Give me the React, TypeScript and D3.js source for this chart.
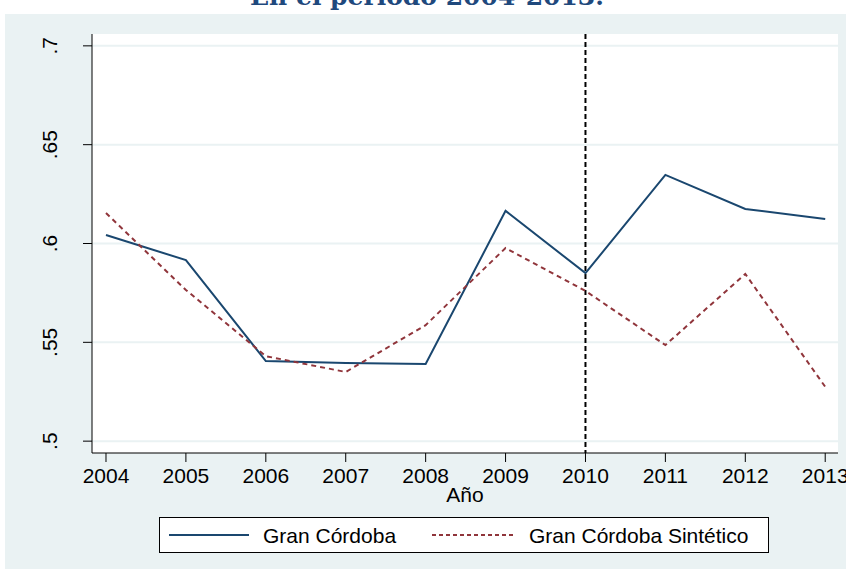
import React from 'react';
import * as d3 from 'd3';

const years = [2004, 2005, 2006, 2007, 2008, 2009, 2010, 2011, 2012, 2013];
const granCordoba = [0.6043, 0.5916, 0.5405, 0.5395, 0.539, 0.6165, 0.585, 0.6347, 0.6175, 0.6124];
const granCordobaSintetico = [0.6154, 0.5765, 0.543, 0.535, 0.5587, 0.5977, 0.576, 0.5486, 0.5846, 0.5275];
const yTicks = [0.5, 0.55, 0.6, 0.65, 0.7];
const yTickLabels = ['.5', '.55', '.6', '.65', '.7'];
const treatmentYear = 2010;

const W = 846;
const H = 569;
const plot = { left: 92, right: 838, top: 34, bottom: 453 };
const FONT = 'Liberation Sans, Arial, sans-serif';

const App = () => {
    const x = d3.scaleLinear().domain([2003.825, 2013.16]).range([plot.left, plot.right]);
    const y = d3.scaleLinear().domain([0.494, 0.706]).range([plot.bottom, plot.top]);

    const line = d3.line<number>()
        .x((_, i) => x(years[i]))
        .y(d => y(d));

    return (
        <div style={{ position: 'absolute', left: 0, top: 0 }}>
            <svg width={W} height={H} style={{ display: 'block' }}>
                <rect x={0} y={0} width={W} height={H} fill="#fff" />
                <text x={427} y={5} textAnchor="middle" fill="#1f497d"
                    style={{ fontFamily: 'DejaVu Serif, serif', fontWeight: 'bold', fontSize: 25 }}>
                    En el período 2004-2013.
                </text>
                {/* outer background */}
                <rect x={5} y={14} width={W - 5} height={H - 14} fill="#eaf2f3" />
                {/* plot region */}
                <rect x={plot.left} y={plot.top} width={plot.right - plot.left} height={plot.bottom - plot.top} fill="#fff" />

                {/* grid */}
                {yTicks.map(t => (
                    <line key={'g' + t} x1={plot.left} x2={plot.right} y1={y(t)} y2={y(t)}
                        stroke="#eaf2f3" strokeWidth={2} />
                ))}

                {/* y axis */}
                <line x1={plot.left} x2={plot.left} y1={plot.top} y2={plot.bottom} stroke="#000" strokeWidth={1} />
                {yTicks.map((t, i) => (
                    <g key={'y' + t}>
                        <line x1={plot.left - 9} x2={plot.left} y1={y(t)} y2={y(t)} stroke="#000" strokeWidth={1} />
                        <text transform={`translate(${plot.left - 35},${y(t)}) rotate(-90)`} textAnchor="middle"
                            style={{ fontFamily: FONT, fontSize: 21 }} fill="#000">
                            {yTickLabels[i]}
                        </text>
                    </g>
                ))}

                {/* x axis */}
                <line x1={plot.left} x2={plot.right} y1={plot.bottom} y2={plot.bottom} stroke="#000" strokeWidth={1} />
                {years.map(yr => (
                    <g key={'x' + yr}>
                        <line x1={x(yr)} x2={x(yr)} y1={plot.bottom} y2={plot.bottom + 9} stroke="#000" strokeWidth={1} />
                        <text x={x(yr)} y={plot.bottom + 30} textAnchor="middle"
                            style={{ fontFamily: FONT, fontSize: 21 }} fill="#000">
                            {yr}
                        </text>
                    </g>
                ))}
                <text x={(plot.left + plot.right) / 2} y={plot.bottom + 49} textAnchor="middle"
                    style={{ fontFamily: FONT, fontSize: 21 }} fill="#000">Año</text>

                {/* treatment line */}
                <line x1={x(treatmentYear)} x2={x(treatmentYear)} y1={plot.top} y2={plot.bottom}
                    stroke="#000" strokeWidth={2} strokeDasharray="5,3" />

                {/* series */}
                <path d={line(granCordoba) || ''} fill="none" stroke="#1a476f" strokeWidth={2} />
                <path d={line(granCordobaSintetico) || ''} fill="none" stroke="#90353b" strokeWidth={2}
                    strokeDasharray="5,4" />

                {/* legend */}
                <rect x={159.5} y={517.5} width={609} height={35} fill="#fff" stroke="#000" strokeWidth={1} />
                <line x1={169} x2={249} y1={535} y2={535} stroke="#1a476f" strokeWidth={2} />
                <text x={263} y={543} style={{ fontFamily: FONT, fontSize: 21 }} fill="#000">Gran Córdoba</text>
                <line x1={432} x2={513} y1={535} y2={535} stroke="#90353b" strokeWidth={2} strokeDasharray="4,3" />
                <text x={529} y={543} style={{ fontFamily: FONT, fontSize: 21 }} fill="#000">Gran Córdoba Sintético</text>
            </svg>
        </div>
    );
};

export default App;
